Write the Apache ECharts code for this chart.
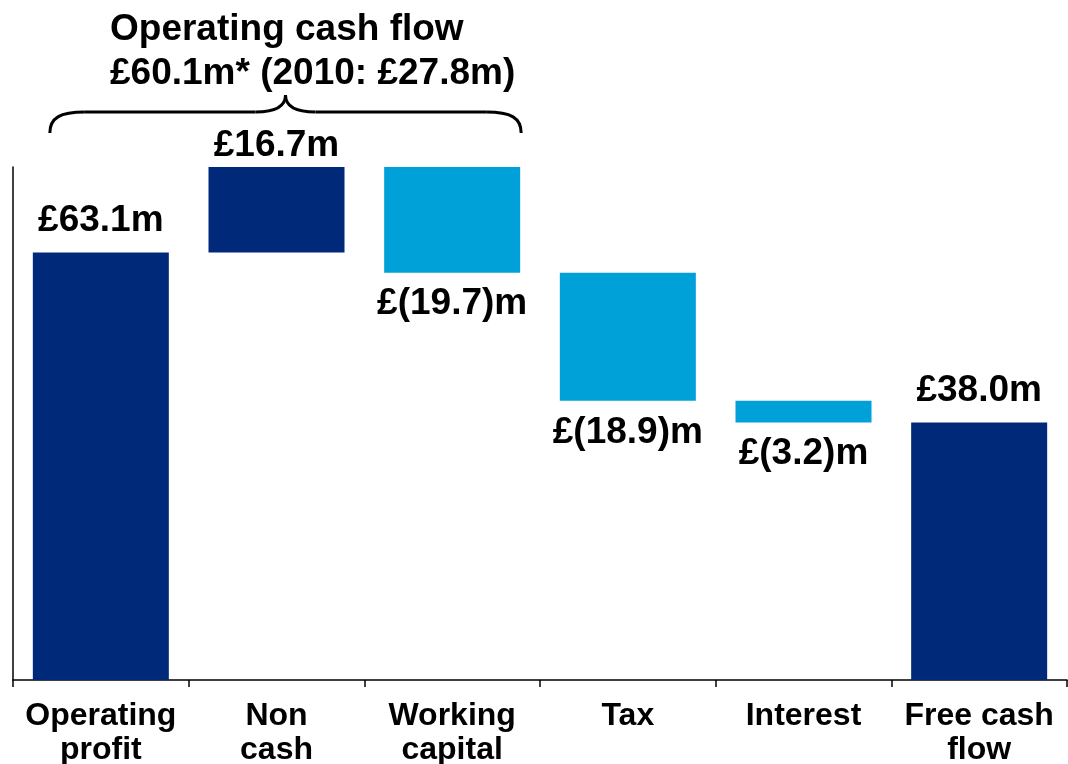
<!DOCTYPE html>
<html>
<head>
<meta charset="utf-8">
<script src="https://cdn.jsdelivr.net/npm/echarts@6/dist/echarts.min.js"></script>
<style>
  html, body {margin: 0; padding: 0; background: #fff;}
  #chart {width: 1068px; height: 764px;}
</style>
</head>
<body>
<div id="chart"></div>
<script>
// Cash flow bridge: operating profit -> free cash flow (£m).
const categories = ["Operating\nprofit", "Non\ncash", "Working\ncapital", "Tax", "Interest", "Free cash\nflow"]
const changes = [63.1, 16.7, -19.7, -18.9, -3.2, 38.0]
const isTotal = [true, false, false, false, false, true]
const titleLines = ["Operating cash flow", "£60.1m* (2010: £27.8m)"]

const DARK = "#00297A"
const LIGHT = "#00A0D9"
const FONT = "'Liberation Sans', Arial, Helvetica, sans-serif"

// Build the invisible base + visible step for each bar from the running total.
const base = []
const step = []
let running = 0
changes.forEach((v, i) => {
  if (isTotal[i]) {
    base.push(0)
    step.push(v)
    running = v
  } else if (v >= 0) {
    base.push(running)
    step.push(v)
    running += v
  } else {
    running += v
    base.push(running)
    step.push(-v)
  }
})

const fmt = (v) => (v < 0 ? `£(${Math.abs(v).toFixed(1)})m` : `£${v.toFixed(1)}m`)

const stepData = step.map((v, i) => {
  const down = changes[i] < 0
  return {
    value: v,
    itemStyle: {color: down ? LIGHT : DARK},
    label: {
      position: down ? "bottom" : "top",
      // the clipped non-cash bar sits its label tighter, as in the source
      distance: i === 1 ? 3 : 13,
    },
  }
})

const chart = echarts.init(document.getElementById("chart"))

chart.setOption({
  animation: false,
  textStyle: {fontFamily: FONT},
  title: {
    text: titleLines.join("\n"),
    left: 110,
    top: 8,
    padding: 0,
    textStyle: {fontFamily: FONT, fontSize: 37, fontWeight: "bold", color: "#000", lineHeight: 44},
  },
  grid: {left: 13, right: 1, top: 167, bottom: 84, outerBoundsMode: "none"},
  xAxis: {
    type: "category",
    data: categories,
    axisLine: {lineStyle: {color: "#000", width: 1.5}},
    axisTick: {show: true, length: 7, lineStyle: {color: "#000", width: 1.5}},
    axisLabel: {
      interval: 0,
      margin: 19,
      color: "#000",
      fontFamily: FONT,
      fontSize: 32,
      fontWeight: "bold",
      lineHeight: 34,
    },
  },
  yAxis: {
    type: "value",
    min: 0,
    max: 75.7,
    axisLine: {show: true, lineStyle: {color: "#000", width: 1.5}},
    axisTick: {show: false},
    axisLabel: {show: false},
    splitLine: {show: false},
  },
  series: [
    {
      name: "base",
      type: "bar",
      stack: "bridge",
      barWidth: 136,
      itemStyle: {color: "transparent"},
      emphasis: {disabled: true},
      data: base,
    },
    {
      name: "step",
      type: "bar",
      stack: "bridge",
      barWidth: 136,
      clip: true,
      label: {
        show: true,
        color: "#000",
        fontFamily: FONT,
        fontSize: 37,
        fontWeight: "bold",
        formatter: (p) => fmt(changes[p.dataIndex]),
      },
      data: stepData,
    },
  ],
})

// Brace spanning operating profit .. working capital, under the title.
const left = chart.convertToPixel({xAxisIndex: 0}, 0) - 51
const right = chart.convertToPixel({xAxisIndex: 0}, 2) + 69
const mid = (left + right) / 2
const yEnd = 133
const yBar = 112
const yTip = 95
const braceStyle = {stroke: "#000", lineWidth: 3, fill: null}
const curve = (x1, y1, cx1, cy1, cx2, cy2, x2, y2) => ({
  type: "bezierCurve",
  silent: true,
  shape: {x1, y1, cpx1: cx1, cpy1: cy1, cpx2: cx2, cpy2: cy2, x2, y2},
  style: braceStyle,
})
const seg = (x1, x2) => ({
  type: "line",
  silent: true,
  shape: {x1, y1: yBar, x2, y2: yBar},
  style: braceStyle,
})

chart.setOption({
  graphic: [
    curve(left, yEnd, left, yBar + 6, left + 10, yBar, left + 35, yBar),
    seg(left + 35, mid - 30),
    curve(mid - 30, yBar, mid - 10, yBar, mid, yBar - 6, mid, yTip),
    curve(mid, yTip, mid, yBar - 6, mid + 10, yBar, mid + 30, yBar),
    seg(mid + 30, right - 35),
    curve(right - 35, yBar, right - 10, yBar, right, yBar + 6, right, yEnd),
  ],
})
</script>
</body>
</html>
